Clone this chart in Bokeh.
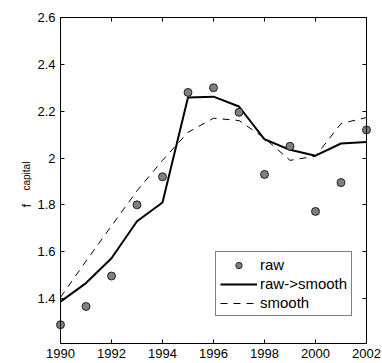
import math
from bokeh.plotting import figure
from bokeh.models import Range1d, FixedTicker, LinearAxis, Legend, LegendItem, Label
from bokeh.embed import file_html
from bokeh.resources import INLINE

# ---- data ----
years = [1990, 1991, 1992, 1993, 1994, 1995, 1996, 1997, 1998, 1999, 2000, 2001, 2002]
raw = [1.288, 1.366, 1.496, 1.80, 1.92, 2.28, 2.30, 2.195, 1.93, 2.05, 1.772, 1.895, 2.12]
raw_smooth = [1.387, 1.466, 1.572, 1.73, 1.81, 2.258, 2.262, 2.22, 2.08, 2.035, 2.01, 2.062, 2.068]
smooth = [1.405, 1.56, 1.71, 1.86, 1.99, 2.11, 2.17, 2.16, 2.085, 1.99, 2.008, 2.147, 2.173]

x_ticks = [1990, 1992, 1994, 1996, 1998, 2000, 2002]
x_labels = ["1990", "1992", "1994", "1996", "1998", "2000", "2002"]
y_ticks = [1.4, 1.6, 1.8, 2.0, 2.2, 2.4, 2.6]
y_labels = ["1.4", "1.6", "1.8", "2", "2.2", "2.4", "2.6"]
x_lim = (1990, 2002)
y_lim = (1.208, 2.6)

legend_labels = ["raw", "raw->smooth", "smooth"]
y_label_main = "f"
y_label_sub = "capital"

FONT = "Liberation Sans"
# The plotting frame covers (almost) the whole canvas; the visible box is drawn by
# fixed-location axes at the data limits, so nothing near the box edge gets clipped.
XS = 306 / (x_lim[1] - x_lim[0])      # px per year
YS = 326 / (y_lim[1] - y_lim[0])      # px per unit
PAD_L, PAD_R, PAD_T = 60 / XS, 10 / XS, 17 / YS

p = figure(width=382, height=363, output_backend="svg", toolbar_location=None,
           x_range=Range1d(x_lim[0] - PAD_L, x_lim[1] + PAD_R),
           y_range=Range1d(y_lim[0], y_lim[1] + PAD_T),
           min_border_left=0, min_border_right=6, min_border_top=0, min_border_bottom=20,
           background_fill_color="white", border_fill_color="white")
p.xgrid.visible = False
p.ygrid.visible = False
p.outline_line_color = None

def style_axis(ax, ticks, labels, show_labels=True):
    ax.ticker = FixedTicker(ticks=ticks)
    ax.major_tick_in = 4
    ax.major_tick_out = 0
    ax.minor_tick_line_color = None
    ax.axis_line_color = "black"
    ax.axis_line_width = 1
    ax.major_tick_line_color = "black"
    ax.major_label_text_font = FONT
    ax.major_label_text_color = "black"
    if show_labels:
        ax.major_label_overrides = {t: l for t, l in zip(ticks, labels)}
        ax.major_label_text_font_size = "13px"
        ax.major_label_standoff = 5
    else:
        ax.major_label_overrides = {t: "" for t in ticks}
        ax.major_label_text_font_size = "1px"
        ax.major_label_standoff = 0

xb = p.xaxis[0]
style_axis(xb, x_ticks, x_labels)
xb.bounds = x_lim
yl = p.yaxis[0]
style_axis(yl, y_ticks, y_labels)
yl.fixed_location = x_lim[0]
yl.bounds = y_lim

top_ax = LinearAxis(bounds=x_lim, fixed_location=y_lim[1])
style_axis(top_ax, x_ticks, x_labels, show_labels=False)
p.add_layout(top_ax, "above")
right_ax = LinearAxis(fixed_location=x_lim[1], bounds=y_lim)
style_axis(right_ax, y_ticks, y_labels, show_labels=False)
p.add_layout(right_ax, "right")

r_rs = p.line(years, raw_smooth, line_color="black", line_width=2)
r_s = p.line(years, smooth, line_color="black", line_width=1, line_dash="7 6")
r_raw = p.scatter(years, raw, size=8, fill_color="#808080", line_color="black", line_width=0.8)

legend = Legend(items=[LegendItem(label=legend_labels[0], renderers=[r_raw]),
                       LegendItem(label=legend_labels[1], renderers=[r_rs]),
                       LegendItem(label=legend_labels[2], renderers=[r_s])],
                location=(215, 27), glyph_width=37, glyph_height=16, label_height=16,
                label_standoff=3, spacing=2, padding=4, margin=0,
                label_text_font=FONT, label_text_font_size="15px", label_text_color="black",
                border_line_color="black", border_line_width=1,
                background_fill_color="white", background_fill_alpha=1)
p.add_layout(legend, "center")

# y-axis label "f" with subscript "capital" (screen units from frame bottom-left)
p.add_layout(Label(x=26, y=136, x_units="screen", y_units="screen", text=y_label_main,
                   angle=math.pi / 2, text_font=FONT, text_font_size="13px",
                   text_align="left", text_baseline="alphabetic", text_color="black"))
p.add_layout(Label(x=25.5, y=153, x_units="screen", y_units="screen", text=y_label_sub,
                   angle=math.pi / 2, text_font=FONT, text_font_size="10px",
                   text_align="left", text_baseline="alphabetic", text_color="black"))

open("out.html", "w").write(file_html(p, INLINE))
